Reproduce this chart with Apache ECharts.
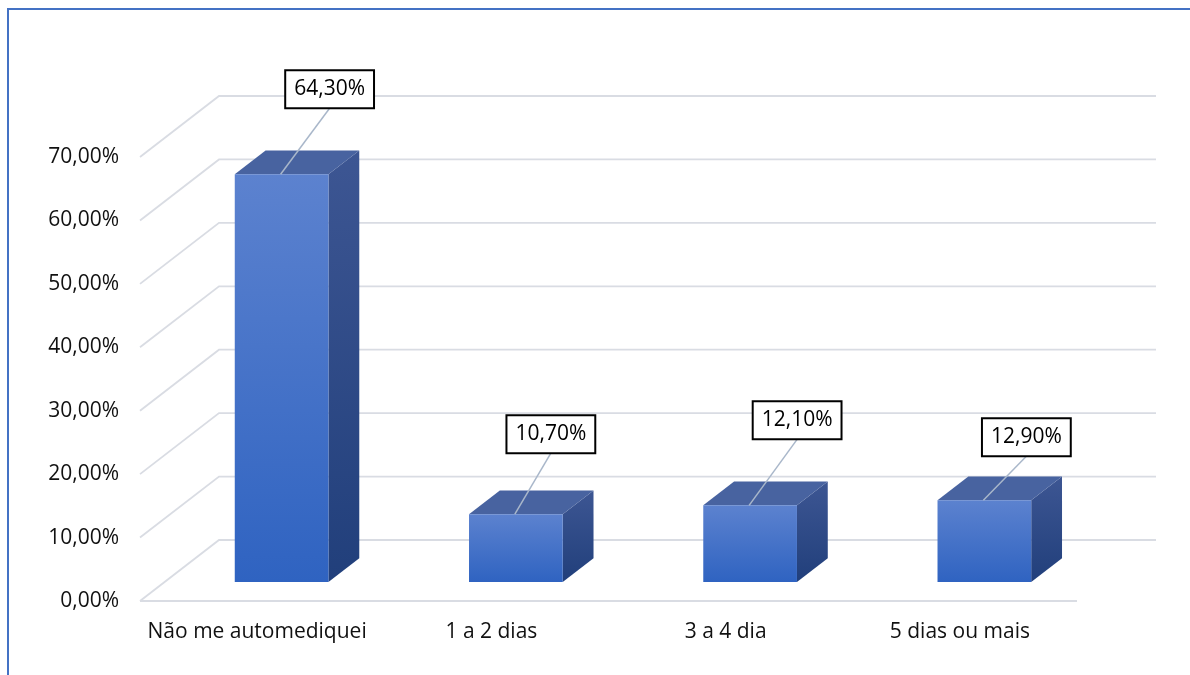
<!DOCTYPE html>
<html>
<head>
<meta charset="utf-8">
<style>
  html, body { margin: 0; padding: 0; background: #ffffff; }
  #chart { width: 1190px; height: 675px; }
</style>
<script src="https://cdn.jsdelivr.net/npm/echarts@6/dist/echarts.min.js"></script>
</head>
<body>
<div id="chart"></div>
<script>
// Chart data
const CATEGORIES = ['Não me automediquei', '1 a 2 dias', '3 a 4 dia', '5 dias ou mais'];
const VALUES = [64.3, 10.7, 12.1, 12.9];
const TICKS = [0, 10, 20, 30, 40, 50, 60, 70];

// Pseudo-3D layout: screen offset of the back wall relative to the front plane
const DEPTH_DX = 79;
const DEPTH_DY = -61;
// Bars occupy this slice of the floor depth (0 = front, 1 = back)
const BAR_D0 = 0.31;
const BAR_D1 = 0.70;
const BAR_WIDTH_RATIO = 0.40;
// Callout box placement relative to the top front edge of each bar
const CALLOUT_SHIFT = [[49, -85], [36, -80], [48, -85], [43, -63]];
const CALLOUT_HALF_H = 19;

const FONT = '"Open Sans", "Liberation Sans", sans-serif';
const fmtPct = v => v.toFixed(2).replace('.', ',') + '%';

const chart = echarts.init(document.getElementById('chart'), null, { renderer: 'canvas' });

function renderGrid(params, api) {
  const v = api.value(1);
  const cs = params.coordSys;
  const y = api.coord([0, v])[1];
  const xL = cs.x, xR = cs.x + cs.width;
  const style = { stroke: '#d9dce3', lineWidth: 1.8, fill: null };
  const children = [{
    type: 'polyline',
    shape: { points: [[xL, y], [xL + DEPTH_DX, y + DEPTH_DY], [xR + DEPTH_DX, y + DEPTH_DY]] },
    style: style, silent: true
  }];
  if (v === 0) {
    children.push({ type: 'line', shape: { x1: xL, y1: y, x2: xR, y2: y }, style: style, silent: true });
  }
  return { type: 'group', children: children };
}

function barGeom(api) {
  const idx = api.value(0);
  const v = api.value(1);
  const top = api.coord([idx, v]);
  const base = api.coord([idx, 0]);
  const w = api.size([1, 0])[0] * BAR_WIDTH_RATIO;
  return { cx: top[0], yT: top[1], y0: base[1], xl: top[0] - w / 2, xr: top[0] + w / 2 };
}

function renderBar(params, api) {
  const g = barGeom(api);
  const ax = BAR_D0 * DEPTH_DX, ay = BAR_D0 * DEPTH_DY;
  const bx = BAR_D1 * DEPTH_DX, by = BAR_D1 * DEPTH_DY;
  const front = {
    type: 'rect',
    shape: { x: g.xl + ax, y: g.yT + ay, width: g.xr - g.xl, height: g.y0 - g.yT },
    style: {
      fill: new echarts.graphic.LinearGradient(0, 0, 0, 1, [
        { offset: 0, color: '#5c82cf' },
        { offset: 1, color: '#2f63c1' }
      ])
    }
  };
  const topFace = {
    type: 'polygon',
    shape: { points: [[g.xl + ax, g.yT + ay], [g.xr + ax, g.yT + ay], [g.xr + bx, g.yT + by], [g.xl + bx, g.yT + by]] },
    style: { fill: '#4863a0' }
  };
  const side = {
    type: 'polygon',
    shape: { points: [[g.xr + ax, g.yT + ay], [g.xr + bx, g.yT + by], [g.xr + bx, g.y0 + by], [g.xr + ax, g.y0 + ay]] },
    style: {
      fill: new echarts.graphic.LinearGradient(0, 0, 0, 1, [
        { offset: 0, color: '#3d5693' },
        { offset: 1, color: '#213f7b' }
      ])
    }
  };
  return { type: 'group', children: [side, topFace, front] };
}

function renderCallout(params, api) {
  const g = barGeom(api);
  const i = params.dataIndex;
  const sx = g.cx + BAR_D0 * DEPTH_DX - 1;
  const sy = g.yT + BAR_D0 * DEPTH_DY;
  const bx = sx + CALLOUT_SHIFT[i][0];
  const by = sy + CALLOUT_SHIFT[i][1];
  return {
    type: 'group',
    children: [
      {
        type: 'line',
        shape: { x1: sx, y1: sy, x2: bx, y2: by + CALLOUT_HALF_H },
        style: { stroke: '#a9b7ca', lineWidth: 1.5 },
        silent: true
      },
      {
        type: 'text',
        x: bx, y: by,
        style: {
          text: fmtPct(api.value(1)),
          font: '21px ' + FONT,
          fill: '#000000',
          align: 'center',
          verticalAlign: 'middle',
          backgroundColor: '#ffffff',
          borderColor: '#000000',
          borderWidth: 2,
          padding: [8, 8, 7, 8]
        },
        silent: true
      }
    ]
  };
}

const option = {
  backgroundColor: '#ffffff',
  animation: false,
  textStyle: { fontFamily: FONT },
  grid: { left: 140, right: 113, top: 157, bottom: 74 },
  xAxis: {
    type: 'category',
    data: CATEGORIES,
    axisLine: { show: false },
    axisTick: { show: false },
    splitLine: { show: false },
    axisLabel: { fontSize: 21, color: '#111111', margin: 21, fontFamily: FONT, interval: 0 }
  },
  yAxis: {
    type: 'value',
    min: 0, max: 70, interval: 10,
    axisLine: { show: false },
    axisTick: { show: false },
    splitLine: { show: false },
    axisLabel: { fontSize: 21, color: '#111111', margin: 21, fontFamily: FONT, formatter: v => fmtPct(v) }
  },
  graphic: [{
    type: 'rect',
    shape: { x: 8, y: 9, width: 1400, height: 900 },
    style: { fill: null, stroke: '#4472c4', lineWidth: 2 },
    silent: true, z: 100
  }],
  series: [
    {
      type: 'custom',
      name: 'grid',
      renderItem: renderGrid,
      data: TICKS.map(t => [0, t]),
      z: 1,
      silent: true
    },
    {
      type: 'custom',
      name: 'bars',
      renderItem: renderBar,
      data: VALUES.map((v, i) => [i, v]),
      z: 2
    },
    {
      type: 'custom',
      name: 'callouts',
      renderItem: renderCallout,
      data: VALUES.map((v, i) => [i, v]),
      z: 3
    }
  ]
};

chart.setOption(option);
</script>
</body>
</html>
